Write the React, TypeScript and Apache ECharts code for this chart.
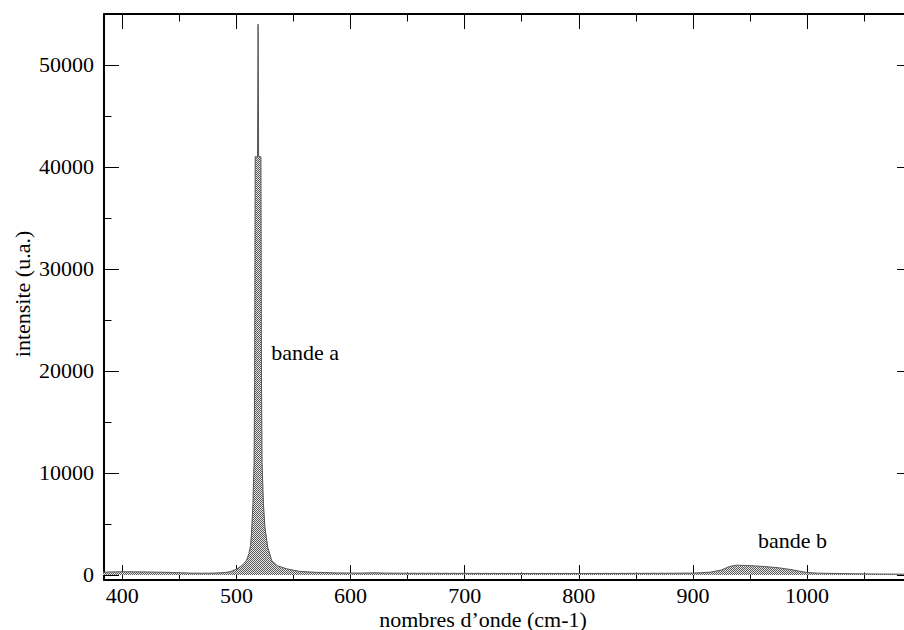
import React, { useEffect, useRef } from "react";
import * as echarts from "echarts";

// wavenumber (cm-1) and intensity (u.a.)
const wavenumbers = [
  383, 390, 400, 410, 420, 430, 440, 450, 460, 470, 480, 490, 495, 500, 504, 507, 509, 511,
  512.5, 513.5, 514.5, 515.5, 516, 516.5, 518.5, 519, 519.5, 521.5, 522, 522.5, 523.7, 525,
  527.5, 531, 536, 544, 555, 570, 590, 610, 620, 630, 650, 700, 750, 800, 850, 880, 900,
  915, 925, 932, 938, 945, 955, 965, 975, 985, 993, 1000, 1010, 1030, 1050, 1070, 1092,
];
const intensities = [
  260, 290, 310, 300, 290, 270, 250, 210, 175, 165, 175, 230, 330, 560, 850, 1150, 1450, 2100,
  2900, 4600, 7000, 11000, 19000, 41000, 41000, 54000, 41000, 41000, 19000, 11000, 7000, 4700,
  2700, 1400, 900, 600, 350, 250, 190, 180, 210, 180, 160, 150, 140, 140, 150, 160, 180,
  260, 480, 820, 950, 930, 880, 800, 700, 540, 370, 240, 170, 130, 100, 80, 70,
];

const xMajorTicks = [400, 500, 600, 700, 800, 900, 1000];
const xMinorTicks = [450, 550, 650, 750, 850, 950, 1050];
const yMajorTicks = [0, 10000, 20000, 30000, 40000, 50000];
const yMinorTicks = [5000, 15000, 25000, 35000, 45000, 55000];

const annotations = [
  { text: "bande a", x: 530.5, y: 21800 },
  { text: "bande b", x: 957, y: 3400 },
];

const X_MIN = 384;
const X_MAX = 1092;
const Y_MIN = -500;
const Y_MAX = 55000;

const FONT = "'Liberation Serif', 'Times New Roman', 'DejaVu Serif', serif";

function makeAxis(
  kind: "x" | "y",
  position: string,
  ticks: number[],
  len: number,
  showLine: boolean,
  labels: number[] | null
) {
  return {
    type: "value",
    position,
    min: kind === "x" ? X_MIN : Y_MIN,
    max: kind === "x" ? X_MAX : Y_MAX,
    axisLine: { show: showLine, onZero: false, lineStyle: { color: "#000", width: 2 } },
    axisTick: {
      show: true,
      inside: true,
      length: len,
      customValues: ticks,
      lineStyle: { color: "#000", width: 1 },
    },
    axisLabel: labels
      ? {
          show: true,
          customValues: labels,
          formatter: (v: number) => String(v),
          fontFamily: FONT,
          fontSize: 22,
          lineHeight: 22,
          color: "#000",
          margin: kind === "x" ? 4 : 10,
        }
      : { show: false },
    splitLine: { show: false },
    minorTick: { show: false },
    minorSplitLine: { show: false },
  };
}

function makePattern() {
  const c = document.createElement("canvas");
  c.width = 2;
  c.height = 2;
  const ctx = c.getContext("2d");
  if (ctx) {
    ctx.fillStyle = "#e6e6e6";
    ctx.fillRect(0, 0, 2, 2);
    ctx.fillStyle = "#5a5a5a";
    ctx.fillRect(0, 0, 1, 1);
    ctx.fillRect(1, 1, 1, 1);
  }
  return c;
}

export default function App() {
  const ref = useRef<HTMLDivElement>(null);

  useEffect(() => {
    if (!ref.current) return;
    const chart = echarts.init(ref.current, null, { renderer: "svg" });
    const data = wavenumbers.map((w, i) => [w, intensities[i]]);
    const pattern = makePattern();

    chart.setOption({
      animation: false,
      backgroundColor: "#fff",
      textStyle: { fontFamily: FONT },
      grid: {
        left: 104,
        top: 14,
        width: 808,
        height: 566,
        containLabel: false,
        outerBoundsMode: "none",
      },
      xAxis: [
        makeAxis("x", "bottom", xMajorTicks, 15, true, xMajorTicks),
        makeAxis("x", "bottom", xMinorTicks, 7.5, false, null),
        makeAxis("x", "top", xMajorTicks, 15, true, null),
        makeAxis("x", "top", xMinorTicks, 7.5, false, null),
      ],
      yAxis: [
        makeAxis("y", "left", yMajorTicks, 15, true, yMajorTicks),
        makeAxis("y", "left", yMinorTicks, 7.5, false, null),
        makeAxis("y", "right", yMajorTicks, 15, true, null),
        makeAxis("y", "right", yMinorTicks, 7.5, false, null),
      ],
      series: [
        {
          type: "line",
          xAxisIndex: 0,
          yAxisIndex: 0,
          data,
          showSymbol: false,
          symbol: "none",
          lineStyle: { color: "#555", width: 1 },
          areaStyle: {
            origin: 0,
            color: { image: pattern, repeat: "repeat", imageWidth: 2, imageHeight: 2 },
            opacity: 1,
          },
          markPoint: {
            symbol: "circle",
            symbolSize: 0,
            silent: true,
            label: {
              show: true,
              position: "right",
              distance: 0,
              fontFamily: FONT,
              fontSize: 22,
              color: "#000",
              formatter: (p: any) => p.name,
            },
            data: annotations.map((a) => ({ name: a.text, coord: [a.x, a.y] })),
          },
        },
      ],
      graphic: [
        {
          type: "text",
          x: 22,
          y: 294,
          rotation: Math.PI / 2,
          style: {
            text: "intensite (u.a.)",
            fontFamily: FONT,
            fontSize: 22,
            fill: "#000",
            align: "center",
            verticalAlign: "middle",
          },
        },
        {
          type: "text",
          x: 483,
          y: 619,
          style: {
            text: "nombres d\u2019onde (cm-1)",
            fontFamily: FONT,
            fontSize: 22,
            lineHeight: 22,
            fill: "#000",
            align: "center",
            verticalAlign: "middle",
          },
        },
      ],
    });

    return () => chart.dispose();
  }, []);

  return (
    <div
      style={{
        position: "fixed",
        left: 0,
        top: 0,
        width: 904,
        height: 630,
        overflow: "hidden",
        background: "#fff",
      }}
    >
      <div ref={ref} style={{ width: 920, height: 630 }} />
    </div>
  );
}
